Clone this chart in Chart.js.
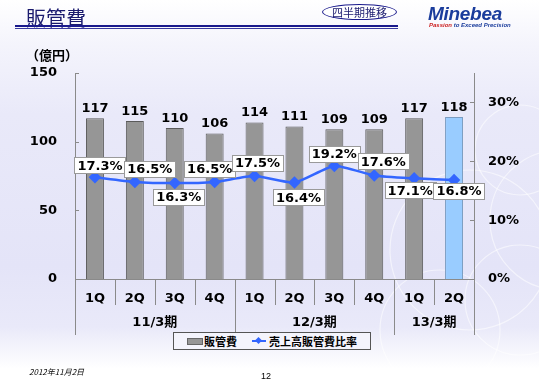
<!DOCTYPE html>
<html>
<head>
<meta charset="utf-8">
<script src="https://cdn.jsdelivr.net/npm/chart.js@4"></script>
<style>
  html, body { margin: 0; padding: 0; }
  body {
    width: 539px; height: 380px; position: relative; overflow: hidden;
    background: linear-gradient(to bottom, #ffffff 0%, #f4f4fc 12%, #e9e9f9 30%, #e4e4f8 70%, #e9e9f9 86%, #ffffff 97%);
    font-family: "DejaVu Sans", "Noto Sans CJK JP", sans-serif;
  }
  #deco { position: absolute; left: 0; top: 0; }
  #chart { position: absolute; left: 0; top: 0; }
  .title { position: absolute; left: 26px; top: 3px; font-size: 20px; color: #1a1a6e;
           font-family: "Noto Sans CJK JP", sans-serif; }
  .rule1 { position: absolute; left: 15px; top: 25px; width: 383px; height: 2px; background: #1a1a8c; }
  .rule2 { position: absolute; left: 15px; top: 28px; width: 383px; height: 1px; background: #3a3aa0; }
  .oval { position: absolute; left: 322px; top: 4px; width: 73px; height: 14px; border: 1px solid #1a1a8c;
          border-radius: 50%; font-size: 11px; line-height: 14px; text-align: center; color: #1a1a6e;
          font-family: "Noto Sans CJK JP", sans-serif; background: #fff; }
  .logo { position: absolute; left: 428px; top: 3px; font-size: 19px; font-weight: bold; font-style: italic;
          color: #1a3c9c; font-family: "Liberation Sans", sans-serif; letter-spacing: -0.3px; }
  .tag { position: absolute; left: 429px; top: 22px; font-size: 6px; font-weight: bold; font-style: italic;
         color: #1a3c9c; font-family: "Liberation Sans", sans-serif; white-space: nowrap; }
  .tag span { color: #cc2222; }
  .unit { position: absolute; left: 26px; top: 45px; font-size: 13px; font-weight: bold;
          font-family: "Noto Sans CJK JP", sans-serif; }
  .legend { position: absolute; left: 173px; top: 332px; width: 196px; height: 16px; border: 1px solid #555;
            background: #f4f4fc; font-size: 11px; font-weight: bold; font-family: "Noto Sans CJK JP", sans-serif;
            line-height: 16px; white-space: nowrap; }
  .legend .sw1 { position: absolute; left: 13px; top: 5px; width: 14px; height: 5px; background: #969696; border: 1px solid #666; }
  .legend .t1 { position: absolute; left: 30px; top: 0; }
  .legend .sw2 { position: absolute; left: 78px; top: 7px; width: 14px; height: 2px; background: #3366ff; }
  .legend .dm { position: absolute; left: 82px; top: 5px; width: 5px; height: 5px; background: #3366ff; transform: rotate(45deg); }
  .legend .t2 { position: absolute; left: 95px; top: 0; }
  .date { position: absolute; left: 29px; top: 366px; font-size: 8px; font-style: italic;
          font-family: "Noto Sans CJK JP", sans-serif; }
  .page { position: absolute; left: 261px; top: 371px; font-size: 9px; font-family: "Liberation Sans", sans-serif; }
</style>
</head>
<body>
<svg id="deco" width="539" height="380">
  <g fill="none" stroke="#ffffff" stroke-opacity="0.55" stroke-width="1.2">
    <circle cx="520" cy="150" r="45"/>
    <circle cx="470" cy="250" r="80"/>
    <circle cx="520" cy="300" r="55"/>
    <circle cx="440" cy="330" r="60"/>
    <circle cx="560" cy="220" r="70"/>
  </g>
</svg>
<canvas id="chart" width="539" height="380"></canvas>
<div class="title">販管費</div>
<div class="rule1"></div>
<div class="rule2"></div>
<div class="oval">四半期推移</div>
<div class="logo">Minebea</div>
<div class="tag"><span>Passion</span> to Exceed Precision</div>
<div class="unit">（億円）</div>
<div class="legend">
  <div class="sw1"></div><div class="t1">販管費</div>
  <div class="sw2"></div><div class="dm"></div><div class="t2">売上高販管費比率</div>
</div>
<div class="date">2012年11月2日</div>
<div class="page">12</div>

<script>
// Data
const quarters = ['1Q', '2Q', '3Q', '4Q', '1Q', '2Q', '3Q', '4Q', '1Q', '2Q'];
const fiscalYears = ['11/3期', '12/3期', '13/3期'];
const yearSpans = [4, 4, 2];
const sgaCost = [117, 115, 110, 106, 114, 111, 109, 109, 117, 118];
const sgaRatio = [17.3, 16.5, 16.3, 16.5, 17.5, 16.4, 19.2, 17.6, 17.1, 16.8];
const leftTicks = [0, 50, 100, 150];
const rightTicks = [0, 10, 20, 30];

// label placement for the ratio boxes (dx, dy from the point)
const ratioLabelOffsets = [[5, -12], [15, -13], [4, 14], [-5, -13], [3, -13], [4, 15], [0, -12], [9, -14], [-4, 12], [5, 11]];

const barColors = sgaCost.map((v, i) => i === sgaCost.length - 1 ? '#99ccff' : '#969696');
const barBorders = sgaCost.map((v, i) => i === sgaCost.length - 1 ? '#7b9cc0' : '#5a5a5a');

const FONT = '"DejaVu Sans", "Noto Sans CJK JP", sans-serif';

// axis lines, inward ticks, category separators, fiscal year labels, value labels
const decorPlugin = {
    id: 'decor',
    afterDatasetsDraw(chart) {
        const ctx = chart.ctx;
        const area = chart.chartArea;
        const yL = chart.scales.y;
        const yR = chart.scales.y1;
        const step = (area.right - area.left) / quarters.length;

        ctx.save();
        ctx.strokeStyle = '#8a8a8a';
        ctx.lineWidth = 1;
        ctx.beginPath();
        // axes
        ctx.moveTo(area.left + 0.5, area.top);
        ctx.lineTo(area.left + 0.5, area.bottom + 56);
        ctx.moveTo(area.right + 0.5, area.top);
        ctx.lineTo(area.right + 0.5, area.bottom + 56);
        ctx.moveTo(area.left, area.bottom + 0.5);
        ctx.lineTo(area.right, area.bottom + 0.5);
        // inward ticks
        leftTicks.forEach(t => {
            const py = Math.round(yL.getPixelForValue(t)) + 0.5;
            ctx.moveTo(area.left, py);
            ctx.lineTo(area.left + 4, py);
        });
        rightTicks.forEach(t => {
            const py = Math.round(yR.getPixelForValue(t)) + 0.5;
            ctx.moveTo(area.right - 4, py);
            ctx.lineTo(area.right, py);
        });
        // quarter separators
        for (let i = 1; i < quarters.length; i++) {
            const px = Math.round(area.left + i * step) + 0.5;
            ctx.moveTo(px, area.bottom);
            ctx.lineTo(px, area.bottom + 26);
        }
        // year separators
        let acc = 0;
        yearSpans.slice(0, -1).forEach(s => {
            acc += s;
            const px = Math.round(area.left + acc * step) + 0.5;
            ctx.moveTo(px, area.bottom);
            ctx.lineTo(px, area.bottom + 56);
        });
        ctx.stroke();

        // fiscal year labels
        ctx.fillStyle = '#000';
        ctx.font = 'bold 13px ' + FONT;
        ctx.textAlign = 'center';
        ctx.textBaseline = 'middle';
        acc = 0;
        fiscalYears.forEach((fy, i) => {
            const cx = area.left + (acc + yearSpans[i] / 2) * step;
            ctx.fillText(fy, cx, area.bottom + 44);
            acc += yearSpans[i];
        });

        // bar value labels
        const barMeta = chart.getDatasetMeta(0);
        ctx.textBaseline = 'bottom';
        barMeta.data.forEach((bar, i) => {
            ctx.fillText(String(sgaCost[i]), bar.x, bar.y - 3);
        });

        // ratio labels in boxes
        const lineMeta = chart.getDatasetMeta(1);
        ctx.textBaseline = 'middle';
        lineMeta.data.forEach((pt, i) => {
            const txt = sgaRatio[i].toFixed(1) + '%';
            const w = ctx.measureText(txt).width + 6;
            const h = 16;
            const cx = pt.x + ratioLabelOffsets[i][0];
            const cy = pt.y + ratioLabelOffsets[i][1];
            ctx.fillStyle = '#ffffff';
            ctx.fillRect(Math.round(cx - w / 2), Math.round(cy - h / 2), Math.round(w), h);
            ctx.strokeStyle = '#9a9a9a';
            ctx.strokeRect(Math.round(cx - w / 2) + 0.5, Math.round(cy - h / 2) + 0.5, Math.round(w), h);
            ctx.fillStyle = '#000';
            ctx.fillText(txt, cx, cy + 1);
        });
        ctx.restore();
    }
};

new Chart(document.getElementById('chart').getContext('2d'), {
    data: {
        labels: quarters,
        datasets: [{
            type: 'bar',
            label: '販管費',
            data: sgaCost,
            backgroundColor: barColors,
            borderColor: barBorders,
            borderWidth: 1,
            barPercentage: 0.45,
            categoryPercentage: 1,
            yAxisID: 'y',
            order: 2
        }, {
            type: 'line',
            label: '売上高販管費比率',
            data: sgaRatio,
            borderColor: '#3366ff',
            backgroundColor: '#3366ff',
            borderWidth: 2.5,
            tension: 0.2,
            pointStyle: 'rectRot',
            pointRadius: 4.5,
            yAxisID: 'y1',
            order: 1
        }]
    },
    options: {
        responsive: false,
        animation: false,
        layout: { padding: { top: 73, left: 0, right: 0, bottom: 0 } },
        plugins: {
            legend: { display: false },
            tooltip: { enabled: false }
        },
        scales: {
            x: {
                grid: { display: false, drawTicks: false },
                border: { display: false },
                ticks: { color: '#000', font: { family: FONT, size: 13, weight: 'bold' }, padding: 12, maxRotation: 0 },
                afterFit: function (scale) { scale.height = 101; }
            },
            y: {
                position: 'left',
                min: 0,
                max: 150,
                grid: { display: false, drawTicks: false },
                border: { display: false },
                ticks: { stepSize: 50, color: '#000', font: { family: FONT, size: 13, weight: 'bold' }, padding: 18 },
                afterFit: function (scale) { scale.width = 75; }
            },
            y1: {
                position: 'right',
                min: 0,
                max: 35,
                grid: { display: false, drawTicks: false },
                border: { display: false },
                afterBuildTicks: function (scale) { scale.ticks = rightTicks.map(v => ({ value: v })); },
                ticks: {
                    color: '#000', font: { family: FONT, size: 13, weight: 'bold' }, padding: 14,
                    callback: function (value) { return value + '%'; }
                },
                afterFit: function (scale) { scale.width = 65; }
            }
        }
    },
    plugins: [decorPlugin]
});
</script>
</body>
</html>
